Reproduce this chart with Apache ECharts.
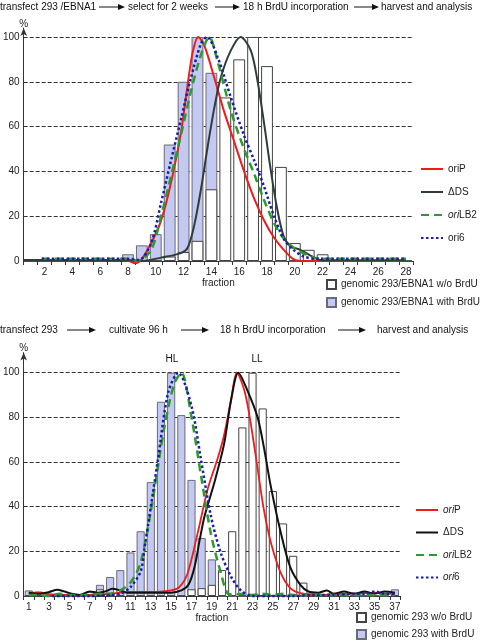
<!DOCTYPE html>
<html><head><meta charset="utf-8">
<script src="https://cdn.jsdelivr.net/npm/echarts@6/dist/echarts.min.js"></script>
<style>html,body{margin:0;padding:0;background:#fff}#c{width:480px;height:643px}</style>
</head><body><div id="c"></div>
<script>
// ---------- TOP PANEL (293/EBNA1) ----------
const topFractions = ['1','2','3','4','5','6','7','8','9','10','11','12','13','14','15','16','17','18','19','20','21','22','23','24','25','26','27','28'];
const topWithBrdU    = [0,0,0,0,0,0,0,3,7,12,52,80,100,84,0,0,0,0,0,0,0,0,0,0,0,0,0,0];
const topWithoutBrdU = [0,0,0,0,0,0,0,0,0,0,2,4,9,32,73,90,100,87,42,8,5,3,0,0,0,0,0,0];
const topOriP  = [[7.5,0.5],[8.1,0],[8.5,-1],[8.95,0.5],[9.67,8],[10.38,18],[11.1,35],[11.8,57],[12.3,79],[12.65,93],[13.05,100],[13.5,96],[14.2,82],[14.9,67],[15.6,54],[16.35,40],[17.07,28],[17.8,18],[18.5,10.5],[19.2,5],[19.9,0.8],[20.5,0],[22,0],[24,0],[26,0],[28,0]];
const topDeltaDS = [[0.5,0.5],[2,0.5],[4,0.5],[6,0.5],[8,0.5],[8.95,0],[10.38,1.5],[11.8,3.5],[12.3,6],[12.77,16],[13.25,32],[13.73,51],[14.2,68],[14.68,82],[15.4,94],[16.1,100],[16.83,94],[17.3,81],[17.8,61],[18.26,41],[18.74,23],[19.2,11],[19.7,6.5],[20.4,5],[21.1,2.5],[21.8,0.5],[23,0.3],[28,0.3]];
const topOriLB2 = [[1.8,1],[3,1],[5,1],[7,1],[8,1],[8.7,0],[9.67,5],[10.38,20],[11.1,38],[11.8,56],[12.5,75],[13.25,92],[13.85,100],[14.45,89],[15.4,67],[16.35,50],[17.07,39],[17.8,27],[18.5,17],[19.2,10],[19.9,6],[20.65,3.4],[21.6,1.2],[23,1],[25,1],[28,1]];
const topOri6 = [[1.8,1],[3,1],[5,1],[7,1],[8,1],[8.8,0.5],[9.67,8],[10.38,26],[11.1,45],[11.8,63],[12.5,81],[13.25,97],[13.68,100],[14.45,91],[15.4,73],[16.35,56],[17.07,45],[17.8,33],[18.5,20],[19.2,10],[19.9,5],[20.65,2],[21.5,1],[23,1],[25,1],[28,1]];

// ---------- BOTTOM PANEL (293) ----------
const botFractions = ['1','2','3','4','5','6','7','8','9','10','11','12','13','14','15','16','17','18','19','20','21','22','23','24','25','26','27','28','29','30','31','32','33','34','35','36','37'];
const botWithBrdU    = [2.5,2,0,0,0,0,0,5,8.5,11.6,19.5,29,51,87,100,81,52,26,16.4,0,0,0,0,0,0,0,0,0,0,0,0,0,0,0,0,0,3];
const botWithoutBrdU = [0,0,0,0,0,0,2,3,0,0,0,0,0,0,0,0,3,3.5,5,11.6,29,75.5,100,84,47,32.5,18,6,0,0,0,0,0,0,0,0,0];
const botOriP = [[1,1.5],[2,1.5],[3,0.8],[4,0.5],[5,0.5],[6,0.5],[7,0.5],[8,0.8],[9,1],[10,1.5],[11,1.8],[12,1.8],[13,1.8],[14,2],[15,2.5],[15.8,4],[16.6,10],[17.6,28],[18.6,48],[19.6,62],[20.2,72],[20.9,88],[21.45,100],[22.2,92],[22.8,78],[23.5,57],[24.1,39],[24.8,24],[25.8,10],[26.7,3.5],[27.5,1.5],[28.5,0.8],[30,0.5],[31,1],[33,1],[35,1.5],[36,1],[37,1.2]];
const botDeltaDS = [[1,1.5],[2,1],[3,1.8],[3.8,2.8],[4.5,2],[5.2,1],[6,0.5],[7,2],[7.8,1.5],[8.5,2],[9.2,3.2],[10,2.5],[10.7,1.5],[12,1.5],[13,1.5],[14,1.5],[15,1.5],[16,2.5],[16.7,5],[17.3,13],[17.8,25],[18.3,36],[19.2,50],[20.2,68],[20.9,88],[21.6,100],[22.5,92],[23.5,80],[24.1,67],[24.8,49],[25.8,28],[26.7,13],[27.7,5],[28.5,2],[29.5,1.5],[30.3,2.5],[31,1],[32,2],[33,1],[34,2],[35,1],[36,2],[37,1.5]];
const botOriLB2 = [[1,0.5],[2,0.5],[3,0],[4,1],[5,0.5],[6,0.5],[7,0.5],[8,1],[9,1],[10,2.5],[11,6],[12,15],[13,38],[14.35,76],[15.3,95],[16,100],[17,80],[17.9,55],[18.9,28],[19.9,10],[20.5,1.5],[21,0.5],[22,1],[23,0.5],[24,1],[25,0.5],[26,1],[27,0.5],[29,0.5],[31,0.5],[33,0.5],[35,0.5],[37,0.5]];
const botOri6 = [[3.3,0],[5,0],[7,0],[9,0.5],[10,1],[11,4],[12,11],[12.4,22],[13.7,61],[14.7,91],[15.7,100],[17,85],[17.9,62],[18.9,36],[19.9,19],[20.9,8.6],[21.85,2.5],[23,0],[25,0],[27,0],[29,0.5],[31,0.5],[33,1],[34,1],[35,2],[36,1],[37,1]];

const FONT = '"Liberation Sans", Arial, sans-serif';
const RED = '#ee1c1c', DARK = '#2f3d3d', BLACK = '#111111', GREEN = '#2e9a2e', BLUE = '#1c1ca8';
const BAR_BLUE = '#c3c9f1';

const chart = echarts.init(document.getElementById('c'), null, {renderer: 'canvas'});

function yAxisFor(gridIndex, max) {
  return {
    type: 'value', gridIndex, min: 0, max, interval: 20,
    name: '%', nameLocation: 'end', nameGap: -1,
    nameTextStyle: {fontSize: 10, fontFamily: FONT, color: '#222', align: 'center'},
    axisLine: {show: true, lineStyle: {color: '#333', width: 1}, symbol: ['none', 'arrow'], symbolSize: [5, 8]},
    axisTick: {show: false},
    axisLabel: {fontSize: 10, fontFamily: FONT, color: '#222', margin: 4, showMaxLabel: false},
    splitLine: {show: true, showMaxLine: false, showMinLine: false, lineStyle: {color: '#333', type: [4, 2], width: 1}}
  };
}
function catAxis(gridIndex, data, showEven) {
  return {
    type: 'category', gridIndex, data,
    name: 'fraction', nameLocation: 'middle', nameGap: 17,
    nameTextStyle: {fontSize: 10, fontFamily: FONT, color: '#222'},
    axisLine: {lineStyle: {color: '#333', width: 1}},
    axisTick: {show: true, length: 4, interval: 0, lineStyle: {color: '#333'}},
    axisLabel: {interval: 0, fontSize: 10, fontFamily: FONT, color: '#222', margin: 6,
      formatter: v => ((+v % 2 === 0) === showEven ? v : '')},
    splitLine: {show: false}
  };
}
function valAxis(gridIndex, max) {
  return {type: 'value', gridIndex, min: 0.5, max, show: false, splitLine: {show: false}};
}
function barSeries(name, xi, yi, data, fill, border, gapCat) {
  return {
    name, type: 'bar', xAxisIndex: xi, yAxisIndex: yi, data,
    barGap: '-100%', barCategoryGap: gapCat,
    itemStyle: {color: fill, borderColor: border, borderWidth: 1},
    emphasis: {disabled: true}, animation: false
  };
}
function lineSeries(name, xi, yi, data, color, width, type) {
  return {
    name, type: 'line', xAxisIndex: xi, yAxisIndex: yi, data,
    smooth: 0.3, symbol: 'none', clip: false,
    lineStyle: {color, width, type, cap: 'butt'},
    itemStyle: {color},
    emphasis: {disabled: true}, animation: false, z: 3
  };
}

const richItalic = {i: {fontStyle: 'italic', fontSize: 10, fontFamily: FONT, color: '#222'}};
const topNames = {'oriP': 'oriP', 'ΔDS': 'ΔDS', 'oriLB2 ': '{i|ori}LB2', 'ori6': 'ori6'};
const botNames = {'oriP ': '{i|ori}P', 'ΔDS ': 'ΔDS', 'oriLB2  ': '{i|ori}LB2', 'ori6 ': '{i|ori}6'};

function arrowGraphic(x1, x2, y) {
  return [
    {type: 'line', shape: {x1, y1: y, x2: x2 - 5, y2: y}, style: {stroke: '#111', lineWidth: 1}},
    {type: 'polygon', shape: {points: [[x2 - 7, y - 3], [x2, y], [x2 - 7, y + 3]]}, style: {fill: '#111'}}
  ];
}
function txt(text, x, y, align) {
  return {type: 'text', x, y, style: {text, fontSize: 10, fontFamily: FONT, fill: '#111', align: align || 'left', verticalAlign: 'middle'}};
}

const graphics = [].concat(
  [txt('transfect 293 /EBNA1', 0, 7)], arrowGraphic(99, 125, 7),
  [txt('select for 2 weeks', 128, 7)], arrowGraphic(215, 240, 7),
  [txt('18 h BrdU incorporation', 243, 7)], arrowGraphic(354, 379, 7),
  [txt('harvest and analysis', 381, 7)],
  [txt('transfect 293', 0, 330)], arrowGraphic(67, 96, 330),
  [txt('cultivate 96 h', 109, 330)], arrowGraphic(181, 209, 330),
  [txt('18 h BrdU incorporation', 220, 330)], arrowGraphic(338, 366, 330),
  [txt('harvest and analysis', 377, 330)],
  [txt('HL', 172, 359, 'center'), txt('LL', 257, 359, 'center')]
);

const lineLegendBase = {
  orient: 'vertical', padding: 0, itemWidth: 22, itemHeight: 10,
  itemStyle: {opacity: 0},
  textStyle: {fontSize: 10, fontFamily: FONT, color: '#222', lineHeight: 12, rich: richItalic}
};
const barLegendBase = {
  orient: 'vertical', padding: 0, itemWidth: 9, itemHeight: 9, icon: 'rect',
  textStyle: {fontSize: 10, fontFamily: FONT, color: '#222', lineHeight: 11}
};

const option = {
  backgroundColor: '#fff',
  animation: false,
  textStyle: {fontFamily: FONT},
  grid: [
    {left: 22, right: 67, top: 28, bottom: 382},
    {left: 22, right: 80, top: 352.6, bottom: 47}
  ],
  xAxis: [
    catAxis(0, topFractions, true),
    valAxis(0, 28.5),
    catAxis(1, botFractions, false),
    valAxis(1, 37.5)
  ],
  yAxis: [yAxisFor(0, 104), yAxisFor(1, 109)],
  legend: [
    Object.assign({}, lineLegendBase, {left: 420, top: 163, itemGap: 11,
      data: ['oriP', 'ΔDS', 'oriLB2 ', 'ori6'], formatter: n => topNames[n]}),
    Object.assign({}, barLegendBase, {left: 326, top: 279, itemGap: 7,
      data: ['genomic 293/EBNA1 w/o BrdU', 'genomic 293/EBNA1 with BrdU']}),
    Object.assign({}, lineLegendBase, {left: 415, top: 504, itemGap: 10.5,
      data: ['oriP ', 'ΔDS ', 'oriLB2  ', 'ori6 '], formatter: n => botNames[n]}),
    Object.assign({}, barLegendBase, {left: 356, top: 612, itemGap: 6,
      data: ['genomic 293 w/o BrdU', 'genomic 293 with BrdU']})
  ],
  graphic: graphics,
  series: [
    barSeries('genomic 293/EBNA1 with BrdU', 0, 0, topWithBrdU, BAR_BLUE, '#6a6a7a', '15%'),
    barSeries('genomic 293/EBNA1 w/o BrdU', 0, 0, topWithoutBrdU, '#ffffff', '#444', '15%'),
    lineSeries('oriP', 1, 0, topOriP, RED, 2, 'solid'),
    lineSeries('ΔDS', 1, 0, topDeltaDS, DARK, 2, 'solid'),
    lineSeries('oriLB2 ', 1, 0, topOriLB2, GREEN, 2.5, [8, 5]),
    lineSeries('ori6', 1, 0, topOri6, BLUE, 2.5, [2.5, 2.5]),
    barSeries('genomic 293 with BrdU', 2, 1, botWithBrdU, BAR_BLUE, '#6a6a7a', '20%'),
    barSeries('genomic 293 w/o BrdU', 2, 1, botWithoutBrdU, '#ffffff', '#444', '20%'),
    lineSeries('oriP ', 3, 1, botOriP, RED, 1.8, 'solid'),
    lineSeries('ΔDS ', 3, 1, botDeltaDS, BLACK, 2, 'solid'),
    lineSeries('oriLB2  ', 3, 1, botOriLB2, GREEN, 2.5, [8, 5]),
    lineSeries('ori6 ', 3, 1, botOri6, BLUE, 2.5, [2.5, 2.5])
  ]
};
chart.setOption(option);
</script>
</body></html>
